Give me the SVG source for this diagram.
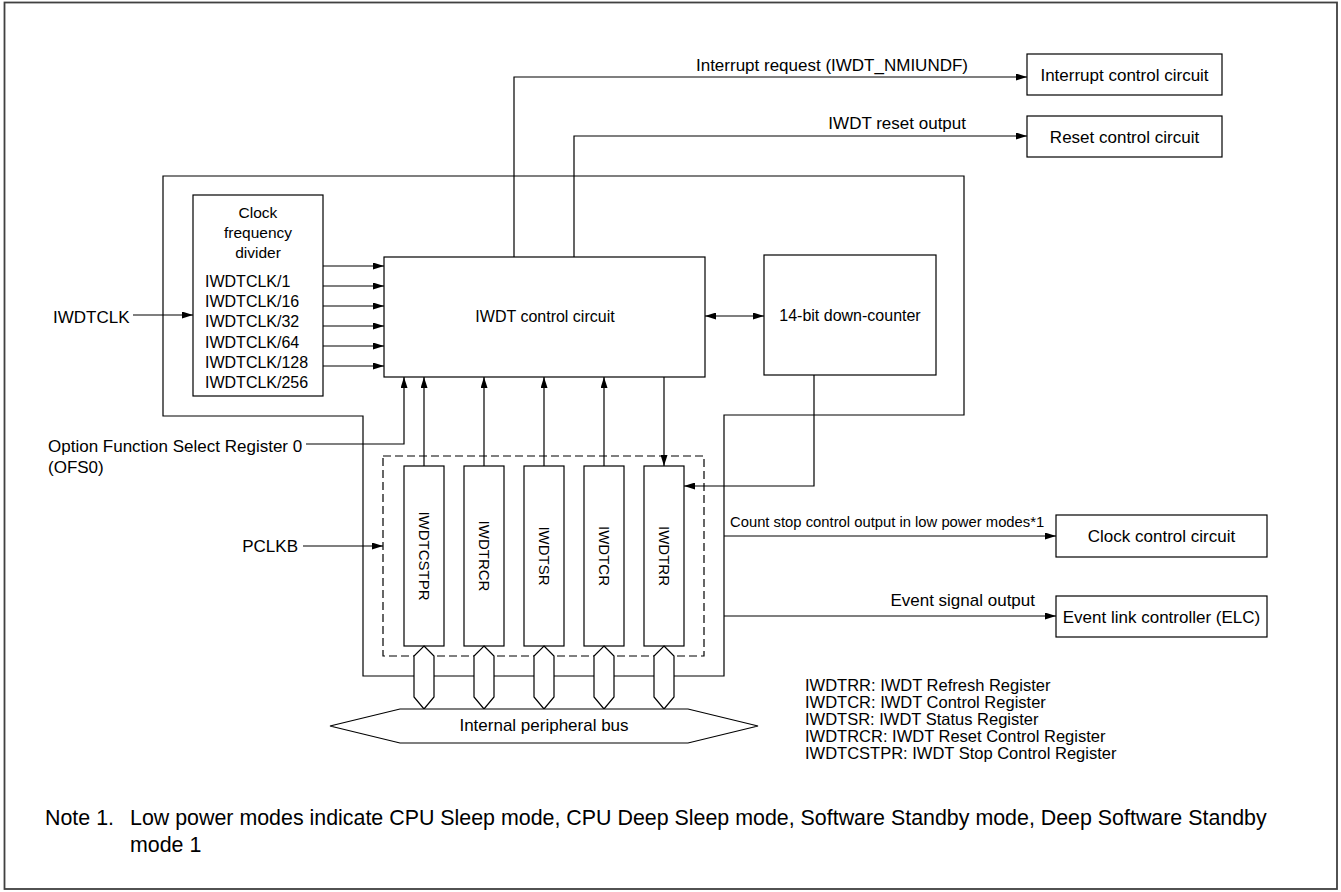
<svg xmlns="http://www.w3.org/2000/svg" width="1341" height="892" viewBox="0 0 1341 892">
<defs>
<marker id="arr" viewBox="0 0 11 7" refX="11" refY="3.5" markerWidth="11" markerHeight="7" markerUnits="userSpaceOnUse" orient="auto-start-reverse"><path d="M0,0 L11,3.5 L0,7 z" fill="#000"/></marker>
</defs>
<style>
.box{fill:#fff;stroke:#000;stroke-width:1.2}
.ln{fill:none;stroke:#000;stroke-width:1.2}
.ar{fill:none;stroke:#000;stroke-width:1.2;marker-end:url(#arr)}
.t{font-family:"Liberation Sans",Arial,sans-serif;font-size:17px;fill:#000}
.c{text-anchor:middle}
.e{text-anchor:end}
.lg{font-size:16.5px}
.nt{font-size:21.4px}
.dash{fill:none;stroke:#000;stroke-width:1.2;stroke-dasharray:8 4}
</style>
<rect x="4.5" y="2.5" width="1332.5" height="886.5" fill="#fff" stroke="#404040" stroke-width="1.8"/>

<g id="iwdt-block">
<path class="ln" d="M163,176 H964 V415 H724 V676 H363 V416 H163 Z"/>
</g>

<g id="connectors">
<path class="ar" d="M514,257 V77 H1027"/>
<path class="ar" d="M574,257 V136 H1027"/>
<path class="ar" d="M133,315 H193"/>
<path class="ar" d="M323,266 H384"/>
<path class="ar" d="M323,286 H384"/>
<path class="ar" d="M323,306 H384"/>
<path class="ar" d="M323,326 H384"/>
<path class="ar" d="M323,346 H384"/>
<path class="ar" d="M323,366 H384"/>
<path class="ar" d="M705,316 H764" style="marker-start:url(#arr)"/>
<path class="ar" d="M306,444 H404 V377"/>
<path class="ar" d="M303,546 H383"/>
<path class="ar" d="M424,466 V377"/>
<path class="ar" d="M484,466 V377"/>
<path class="ar" d="M544,466 V377"/>
<path class="ar" d="M604,466 V377"/>
<path class="ar" d="M664,377 V466"/>
<path class="ar" d="M814,375 V486 H684"/>
<path class="ar" d="M724,536 H1056"/>
<path class="ar" d="M724,616 H1056"/>
</g>

<g id="labels">
<text class="t e" x="968" y="71">Interrupt request (IWDT_NMIUNDF)</text>
<text class="t e" x="966" y="129">IWDT reset output</text>
<text class="t" x="53" y="323">IWDTCLK</text>
<text class="t" x="48" y="452">Option Function Select Register 0</text>
<text class="t" x="48" y="473">(OFS0)</text>
<text class="t e" x="298" y="552">PCLKB</text>
<text class="t" x="730" y="527" style="font-size:14.8px">Count stop control output in low power modes*1</text>
<text class="t e" x="1035" y="606">Event signal output</text>
</g>

<g id="interrupt-control-circuit">
<rect class="box" x="1027" y="54" width="195" height="41"/>
<text class="t c" x="1124.5" y="80.5">Interrupt control circuit</text>
</g>
<g id="reset-control-circuit">
<rect class="box" x="1027" y="116" width="195" height="41"/>
<text class="t c" x="1124.5" y="142.5">Reset control circuit</text>
</g>
<g id="clock-frequency-divider">
<rect class="box" x="193" y="195" width="130" height="201"/>
<text class="t c" x="258" y="218" style="font-size:15.5px">Clock</text>
<text class="t c" x="258" y="238" style="font-size:15.5px">frequency</text>
<text class="t c" x="258" y="258" style="font-size:15.5px">divider</text>
<text class="t" x="205" y="287" style="font-size:16px">IWDTCLK/1</text>
<text class="t" x="205" y="307" style="font-size:16px">IWDTCLK/16</text>
<text class="t" x="205" y="327" style="font-size:16px">IWDTCLK/32</text>
<text class="t" x="205" y="348" style="font-size:16px">IWDTCLK/64</text>
<text class="t" x="205" y="368" style="font-size:16px">IWDTCLK/128</text>
<text class="t" x="205" y="388" style="font-size:16px">IWDTCLK/256</text>
</g>
<g id="iwdt-control-circuit">
<rect class="box" x="384" y="257" width="321" height="120"/>
<text class="t c" x="545" y="322" style="font-size:16px">IWDT control circuit</text>
</g>
<g id="down-counter">
<rect class="box" x="764" y="255" width="172" height="120"/>
<text class="t c" x="850" y="321" style="font-size:16px">14-bit down-counter</text>
</g>

<g id="register-group">
<rect class="dash" x="383" y="456" width="321" height="200"/>
</g>
<g id="reg-iwdtcstpr">
<rect class="box" x="404" y="466" width="40" height="180"/>
<text class="t c" transform="translate(424,556) rotate(90)" x="0" y="5.4" style="font-size:15px">IWDTCSTPR</text>
</g>
<g id="reg-iwdtrcr">
<rect class="box" x="464" y="466" width="40" height="180"/>
<text class="t c" transform="translate(484,556) rotate(90)" x="0" y="5.4" style="font-size:15px">IWDTRCR</text>
</g>
<g id="reg-iwdtsr">
<rect class="box" x="524" y="466" width="40" height="180"/>
<text class="t c" transform="translate(544,556) rotate(90)" x="0" y="5.4" style="font-size:15px">IWDTSR</text>
</g>
<g id="reg-iwdtcr">
<rect class="box" x="584" y="466" width="40" height="180"/>
<text class="t c" transform="translate(604,556) rotate(90)" x="0" y="5.4" style="font-size:15px">IWDTCR</text>
</g>
<g id="reg-iwdtrr">
<rect class="box" x="644" y="466" width="40" height="180"/>
<text class="t c" transform="translate(664,556) rotate(90)" x="0" y="5.4" style="font-size:15px">IWDTRR</text>
</g>

<g id="bus-links">
<path class="box" d="M424,646 L434,656 V697 L424,709 L414,697 V656 Z"/>
<path class="box" d="M484,646 L494,656 V697 L484,709 L474,697 V656 Z"/>
<path class="box" d="M544,646 L554,656 V697 L544,709 L534,697 V656 Z"/>
<path class="box" d="M604,646 L614,656 V697 L604,709 L594,697 V656 Z"/>
<path class="box" d="M664,646 L674,656 V697 L664,709 L654,697 V656 Z"/>
</g>
<g id="internal-peripheral-bus">
<path class="box" d="M400,709 H688 L758,726 L688,743 H400 L330,726 Z"/>
<text class="t c" x="544" y="731">Internal peripheral bus</text>
</g>

<g id="clock-control-circuit">
<rect class="box" x="1056" y="515" width="211" height="42"/>
<text class="t c" x="1161.5" y="542">Clock control circuit</text>
</g>
<g id="event-link-controller">
<rect class="box" x="1056" y="596" width="211" height="41"/>
<text class="t c" x="1161.5" y="622.5">Event link controller (ELC)</text>
</g>

<g id="legend">
<text class="t lg" x="805" y="691">IWDTRR: IWDT Refresh Register</text>
<text class="t lg" x="805" y="708">IWDTCR: IWDT Control Register</text>
<text class="t lg" x="805" y="725">IWDTSR: IWDT Status Register</text>
<text class="t lg" x="805" y="742">IWDTRCR: IWDT Reset Control Register</text>
<text class="t lg" x="805" y="759">IWDTCSTPR: IWDT Stop Control Register</text>
</g>

<g id="note">
<text class="t nt" x="45" y="825">Note 1.</text>
<text class="t nt" x="130" y="825">Low power modes indicate CPU Sleep mode, CPU Deep Sleep mode, Software Standby mode, Deep Software Standby</text>
<text class="t nt" x="130" y="852">mode 1</text>
</g>
</svg>
